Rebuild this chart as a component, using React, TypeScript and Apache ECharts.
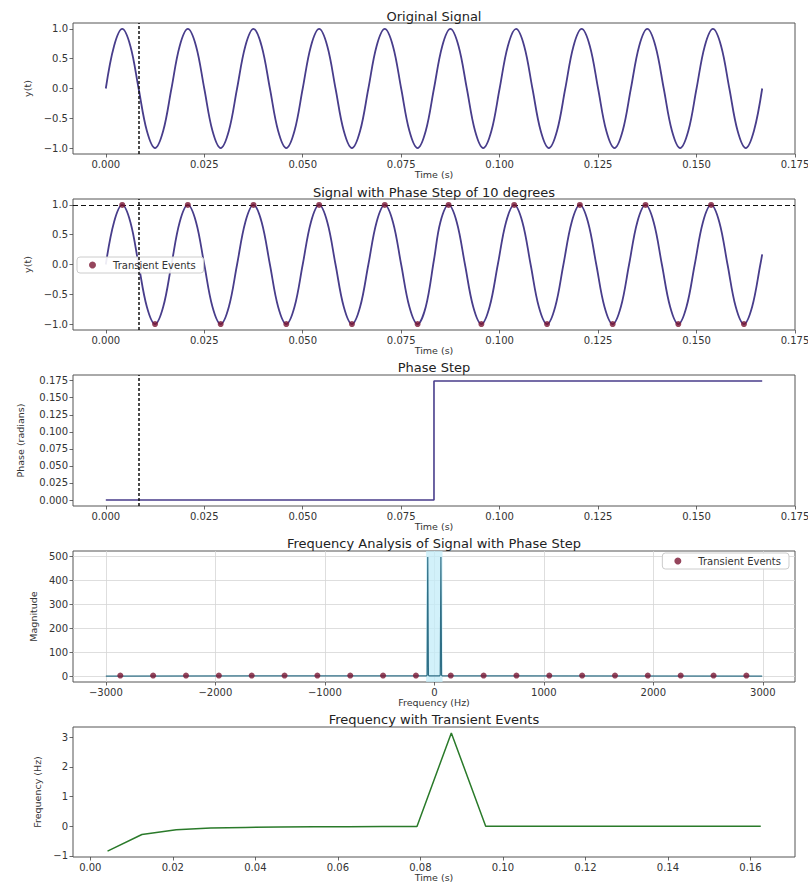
import React, { useEffect, useRef } from "react";
import * as echarts from "echarts";

// ---------- DATA ----------
const timeGrid = [
  0, 0.00208, 0.00417, 0.00625, 0.00833, 0.01042, 0.0125, 0.01458,
  0.01667, 0.01875, 0.02083, 0.02292, 0.025, 0.02708, 0.02917, 0.03125,
  0.03333, 0.03542, 0.0375, 0.03958, 0.04167, 0.04375, 0.04583, 0.04792,
  0.05, 0.05208, 0.05417, 0.05625, 0.05833, 0.06042, 0.0625, 0.06458,
  0.06667, 0.06875, 0.07083, 0.07292, 0.075, 0.07708, 0.07917, 0.08125,
  0.08333, 0.08542, 0.0875, 0.08958, 0.09167, 0.09375, 0.09583, 0.09792,
  0.1, 0.10208, 0.10417, 0.10625, 0.10833, 0.11042, 0.1125, 0.11458,
  0.11667, 0.11875, 0.12083, 0.12292, 0.125, 0.12708, 0.12917, 0.13125,
  0.13333, 0.13542, 0.1375, 0.13958, 0.14167, 0.14375, 0.14583, 0.14792,
  0.15, 0.15208, 0.15417, 0.15625, 0.15833, 0.16042, 0.1625, 0.16458,
  0.16667,
];
const originalSignal = [
  0, 0.71, 1, 0.71, 0, -0.71, -1, -0.71,
  0, 0.71, 1, 0.71, 0, -0.71, -1, -0.71,
  0, 0.71, 1, 0.71, 0, -0.71, -1, -0.71,
  0, 0.71, 1, 0.71, 0, -0.71, -1, -0.71,
  0, 0.71, 1, 0.71, 0, -0.71, -1, -0.71,
  0, 0.71, 1, 0.71, 0, -0.71, -1, -0.71,
  0, 0.71, 1, 0.71, 0, -0.71, -1, -0.71,
  0, 0.71, 1, 0.71, 0, -0.71, -1, -0.71,
  0, 0.71, 1, 0.71, 0, -0.71, -1, -0.71,
  0, 0.71, 1, 0.71, 0, -0.71, -1, -0.71,
  0,
];

// Panel 2: signal with a 10 degree phase step at t = 0.0833 s
const phaseT = [
  0, 0.00208, 0.00417, 0.00625, 0.00833, 0.01042, 0.0125, 0.01458,
  0.01667, 0.01875, 0.02083, 0.02292, 0.025, 0.02708, 0.02917, 0.03125,
  0.03333, 0.03542, 0.0375, 0.03958, 0.04167, 0.04375, 0.04583, 0.04792,
  0.05, 0.05208, 0.05417, 0.05625, 0.05833, 0.06042, 0.0625, 0.06458,
  0.06667, 0.06875, 0.07083, 0.07292, 0.075, 0.07708, 0.07917, 0.08125,
  0.08333,
  0.08495, 0.08704, 0.08912, 0.0912, 0.09329, 0.09537, 0.09745, 0.09954,
  0.10162, 0.1037, 0.10579, 0.10787, 0.10995, 0.11204, 0.11412, 0.1162,
  0.11829, 0.12037, 0.12245, 0.12454, 0.12662, 0.1287, 0.13079, 0.13287,
  0.13495, 0.13704, 0.13912, 0.1412, 0.14329, 0.14537, 0.14745, 0.14954,
  0.15162, 0.1537, 0.15579, 0.15787, 0.15995, 0.16204, 0.16412, 0.1662,
  0.16667,
];
const phaseSignal = [
  0, 0.71, 1, 0.71, 0, -0.71, -1, -0.71,
  0, 0.71, 1, 0.71, 0, -0.71, -1, -0.71,
  0, 0.71, 1, 0.71, 0, -0.71, -1, -0.71,
  0, 0.71, 1, 0.71, 0, -0.71, -1, -0.71,
  0, 0.71, 1, 0.71, 0, -0.71, -1, -0.71,
  0.08,
  0.71, 1, 0.71, 0, -0.71, -1, -0.71, 0,
  0.71, 1, 0.71, 0, -0.71, -1, -0.71, 0,
  0.71, 1, 0.71, 0, -0.71, -1, -0.71, 0,
  0.71, 1, 0.71, 0, -0.71, -1, -0.71, 0,
  0.71, 1, 0.71, 0, -0.71, -1, -0.71, 0,
  0.17,
];

// Transient events (peaks / troughs of the phase-stepped signal)
const eventT = [
  0.00417, 0.0125, 0.02083, 0.02917, 0.0375, 0.04583, 0.05417, 0.0625,
  0.07083, 0.07917, 0.08704, 0.09537, 0.1037, 0.11204, 0.12037, 0.1287,
  0.13704, 0.14537, 0.1537, 0.16204,
];
const eventY = [1, -1, 1, -1, 1, -1, 1, -1, 1, -1, 1, -1, 1, -1, 1, -1, 1, -1, 1, -1];
const eventMarkerTime = 0.00833;

// Panel 3: phase step
const stepT = [0, 0.08333, 0.08333, 0.16667];
const stepPhase = [0, 0, 0.1745, 0.1745];

// Panel 4: FFT magnitude
const fftFreq = [-3000, -72, -66, -60, -54, -48, 48, 54, 60, 66, 72, 2994];
const fftMag = [0, 1, 3, 498, 4, 1, 1, 4, 498, 3, 1, 0];
const eventFreq = [
  150, 450, 750, 1050, 1350, 1650, 1950, 2250, 2550, 2850,
  -2868, -2568, -2268, -1968, -1668, -1368, -1068, -768, -468, -168,
];
const eventMag = [2, 2, 2, 2, 2, 2, 2, 2, 2, 2, 2, 2, 2, 2, 2, 2, 2, 2, 2, 2];

// Panel 5: instantaneous frequency deviation
const instT = [
  0.00417, 0.0125, 0.02083, 0.02917, 0.0375, 0.04583, 0.05417, 0.0625,
  0.07083, 0.07917, 0.0875, 0.09583, 0.10417, 0.1125, 0.12083, 0.12917,
  0.1375, 0.14583, 0.15417, 0.1625,
];
const instFreq = [
  -0.84, -0.28, -0.12, -0.06, -0.04, -0.03, -0.02, -0.02, -0.01, -0.01,
  3.15, 0, 0, 0, 0, 0, 0, 0, 0, 0,
];

// Tick labels
const timeTicks = [0, 0.025, 0.05, 0.075, 0.1, 0.125, 0.15, 0.175];
const unitTicks = [-1, -0.5, 0, 0.5, 1];
const phaseTicks = [0, 0.025, 0.05, 0.075, 0.1, 0.125, 0.15, 0.175];
const freqTicks = [-3000, -2000, -1000, 0, 1000, 2000, 3000];
const magTicks = [0, 100, 200, 300, 400, 500];
const instTimeTicks = [0, 0.02, 0.04, 0.06, 0.08, 0.1, 0.12, 0.14, 0.16];
const instFreqTicks = [-1, 0, 1, 2, 3];

const titles = [
  "Original Signal",
  "Signal with Phase Step of 10 degrees",
  "Phase Step",
  "Frequency Analysis of Signal with Phase Step",
  "Frequency with Transient Events",
];

// ---------- LAYOUT / STYLE ----------
const FONT = "DejaVu Sans";
const LEFT = 73;
const WIDTH = 722;
const gridPos = [
  { top: 23, height: 131 },
  { top: 199, height: 131 },
  { top: 375, height: 131 },
  { top: 551, height: 131 },
  { top: 727, height: 130 },
];
const titleY = [16, 192, 367, 543, 719];

const SIGNAL = "#483d8b";
const EVENT = "#7a1733";
const FFT = "#2f6f86";
const GREEN = "#2a7a2a";

const pairs = (xs: number[], ys: number[]) => xs.map((x, i) => [x, ys[i]]);
const mf = (s: string) => s.replace("-", "\u2212");

function axis(idx: number, min: number, max: number, ticks: number[], fmt: (v: number) => string, name: string, nameGap: number, split = false) {
  return {
    type: "value", gridIndex: idx, min, max,
    name, nameLocation: "middle", nameGap,
    nameTextStyle: { fontFamily: FONT, fontSize: 9.5, color: "#333" },
    axisLine: { show: false, onZero: false },
    axisTick: { show: true, length: 3.5, customValues: ticks, lineStyle: { color: "#444", width: 0.8 } },
    axisLabel: { customValues: ticks, formatter: (v: number) => fmt(v), fontFamily: FONT, fontSize: 10, color: "#333", margin: 5 },
    splitLine: { show: split, lineStyle: { color: "#d6d6d6", width: 0.8 } },
  };
}

const vLine = {
  silent: true, symbol: "none", precision: 6, label: { show: false },
  lineStyle: { color: "#111", type: [3, 2], width: 1.5 },
  data: [{ xAxis: eventMarkerTime }],
};

export default function App() {
  const ref = useRef<HTMLDivElement>(null);
  useEffect(() => {
    if (!ref.current) return;
    const chart = echarts.init(ref.current, null, { renderer: "svg" });
    const legendBase = {
      data: ["Transient Events"],
      orient: "horizontal",
      icon: "circle",
      itemWidth: 7,
      itemHeight: 7,
      selectedMode: false,
      backgroundColor: "rgba(255,255,255,0.9)",
      borderColor: "#cccccc",
      borderWidth: 1,
      borderRadius: 3,
      padding: [3, 8, 3, 12],
      textStyle: { fontFamily: FONT, fontSize: 10, color: "#333", padding: [0, 0, 0, 12] },
    };
    const option: any = {
      animation: false,
      backgroundColor: "#ffffff",
      grid: gridPos.map((g) => ({
        left: LEFT, width: WIDTH, top: g.top, height: g.height,
        show: true, borderColor: "#555", borderWidth: 1, backgroundColor: "transparent",
        containLabel: false, outerBoundsMode: "none",
      })),
      legend: [
        { ...legendBase, left: 77, top: 257 },
        { ...legendBase, right: 19, top: 553 },
      ],
      xAxis: [
        axis(0, -0.00833, 0.175, timeTicks, (v) => v.toFixed(3), "Time (s)", 14),
        axis(1, -0.00833, 0.175, timeTicks, (v) => v.toFixed(3), "Time (s)", 15),
        axis(2, -0.00833, 0.175, timeTicks, (v) => v.toFixed(3), "Time (s)", 12),
        axis(3, -3300, 3294, freqTicks, (v) => mf(String(Math.round(v))), "Frequency (Hz)", 11, true),
        axis(4, -0.0042, 0.1708, instTimeTicks, (v) => v.toFixed(2), "Time (s)", 11),
      ],
      yAxis: [
        axis(0, -1.1, 1.1, unitTicks, (v) => mf(v.toFixed(1)), "y(t)", 38),
        axis(1, -1.1, 1.1, unitTicks, (v) => mf(v.toFixed(1)), "y(t)", 38),
        axis(2, -0.00873, 0.18326, phaseTicks, (v) => v.toFixed(3), "Phase (radians)", 48),
        axis(3, -24.9, 522.9, magTicks, (v) => String(Math.round(v)), "Magnitude", 34, true),
        axis(4, -1.04, 3.35, instFreqTicks, (v) => mf(String(Math.round(v))), "Frequency (Hz)", 28),
      ],
      graphic: titles.map((t, i) => ({
        type: "text",
        x: LEFT + WIDTH / 2,
        y: titleY[i],
        style: {
          text: t, fill: "#222", font: `13px "${FONT}"`,
          textAlign: "center", textVerticalAlign: "middle", align: "center", verticalAlign: "middle",
        },
      })),
      series: [
        {
          type: "line", xAxisIndex: 0, yAxisIndex: 0, data: pairs(timeGrid, originalSignal),
          smooth: 0.35, showSymbol: false,
          lineStyle: { color: SIGNAL, width: 1.8 }, itemStyle: { color: SIGNAL },
          markLine: vLine,
        },
        {
          type: "line", xAxisIndex: 1, yAxisIndex: 1, data: pairs(phaseT, phaseSignal),
          smooth: 0.35, showSymbol: false,
          lineStyle: { color: SIGNAL, width: 1.8 }, itemStyle: { color: SIGNAL },
          markLine: {
            silent: true, symbol: "none", precision: 6, label: { show: false },
            data: [
              { xAxis: eventMarkerTime, lineStyle: { color: "#111", type: [3, 2], width: 1.5 } },
              { yAxis: 1, lineStyle: { color: "#111", type: [5, 3], width: 1.2 } },
            ],
          },
        },
        {
          type: "scatter", name: "Transient Events", xAxisIndex: 1, yAxisIndex: 1,
          data: pairs(eventT, eventY), symbolSize: 6, itemStyle: { color: EVENT }, z: 5,
        },
        {
          type: "line", xAxisIndex: 2, yAxisIndex: 2, data: pairs(stepT, stepPhase),
          showSymbol: false, lineStyle: { color: SIGNAL, width: 1.6 }, itemStyle: { color: SIGNAL },
          markLine: vLine,
        },
        {
          type: "line", xAxisIndex: 3, yAxisIndex: 3, data: pairs(fftFreq, fftMag),
          showSymbol: false, lineStyle: { color: FFT, width: 1.2 }, itemStyle: { color: FFT },
          markArea: {
            silent: true,
            itemStyle: { color: "rgba(195,236,248,0.75)" },
            data: [[{ xAxis: -75 }, { xAxis: 75 }]],
          },
        },
        {
          type: "scatter", name: "Transient Events", xAxisIndex: 3, yAxisIndex: 3,
          data: pairs(eventFreq, eventMag), symbolSize: 6, itemStyle: { color: EVENT }, z: 5,
        },
        {
          type: "line", xAxisIndex: 4, yAxisIndex: 4, data: pairs(instT, instFreq),
          showSymbol: false, lineStyle: { color: GREEN, width: 1.5 }, itemStyle: { color: GREEN },
        },
      ],
    };
    chart.setOption(option);
    return () => chart.dispose();
  }, []);
  return (
    <div
      ref={ref}
      style={{ position: "absolute", left: 0, top: 0, width: 808, height: 882, background: "#fff" }}
    />
  );
}
